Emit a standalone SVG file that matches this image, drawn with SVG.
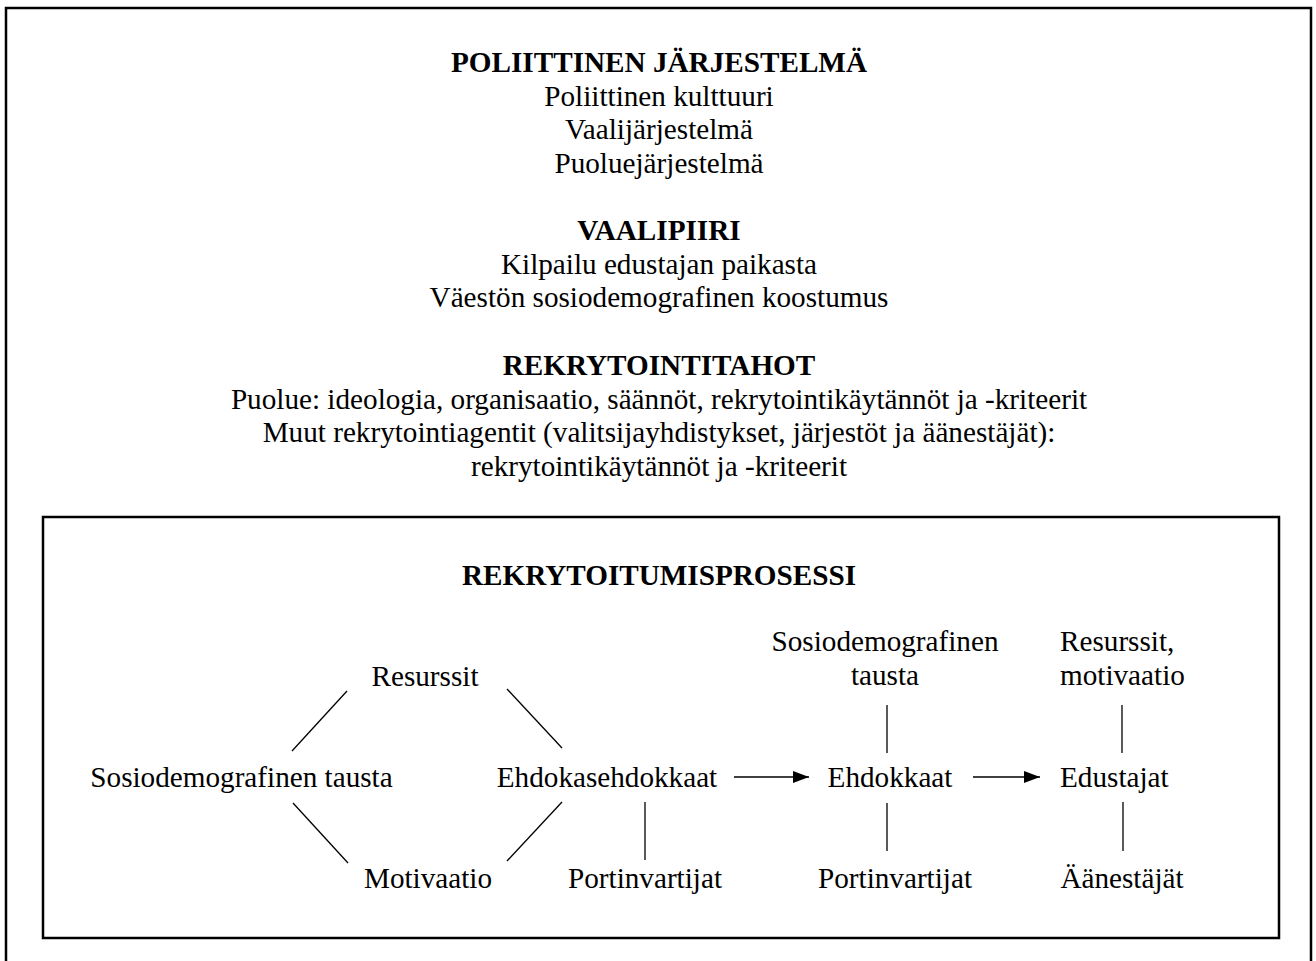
<svg xmlns="http://www.w3.org/2000/svg" width="1316" height="961" viewBox="0 0 1316 961" font-family="'Liberation Serif', Tinos, 'Times New Roman', 'DejaVu Serif', serif">
<style>
text{font-family:'Liberation Serif',Tinos,'Times New Roman','DejaVu Serif',serif;font-size:29.2px;fill:#000}
.c{text-anchor:middle}
.b{font-weight:bold}
.frame{fill:none;stroke:#000;stroke-width:2.5}
.ln{stroke:#000;stroke-width:1.3;fill:none}
</style>
<defs>
<marker id="ah" markerWidth="16" markerHeight="12" refX="16" refY="6" orient="auto" markerUnits="userSpaceOnUse">
<path d="M0,0 L16,6 L0,12 Z" fill="#000"/>
</marker>
</defs>
<rect width="1316" height="961" fill="#fff"/>
<rect class="frame" x="6" y="8" width="1305" height="970"/>
<g id="context">
<text class="c b" x="659" y="72">POLIITTINEN JÄRJESTELMÄ</text>
<text class="c" x="659" y="105.5">Poliittinen kulttuuri</text>
<text class="c" x="659" y="139">Vaalijärjestelmä</text>
<text class="c" x="659" y="172.5">Puoluejärjestelmä</text>
<text class="c b" x="659" y="240">VAALIPIIRI</text>
<text class="c" x="659" y="273.5">Kilpailu edustajan paikasta</text>
<text class="c" x="659" y="307">Väestön sosiodemografinen koostumus</text>
<text class="c b" x="659" y="375">REKRYTOINTITAHOT</text>
<text class="c" x="659" y="408.5">Puolue: ideologia, organisaatio, säännöt, rekrytointikäytännöt ja -kriteerit</text>
<text class="c" x="659" y="442">Muut rekrytointiagentit (valitsijayhdistykset, järjestöt ja äänestäjät):</text>
<text class="c" x="659" y="475.5">rekrytointikäytännöt ja -kriteerit</text>
</g>
<g id="process">
<rect class="frame" x="43" y="517" width="1236" height="421"/>
<text class="c b" x="659" y="585">REKRYTOITUMISPROSESSI</text>
</g>
<g id="n-resurssit"><text class="c" x="425" y="686">Resurssit</text></g>
<g id="n-sosio1"><text class="c" x="241.5" y="787">Sosiodemografinen tausta</text></g>
<g id="n-motivaatio"><text class="c" x="428" y="888">Motivaatio</text></g>
<g id="n-ehdokasehdokkaat"><text class="c" x="607" y="787">Ehdokasehdokkaat</text></g>
<g id="n-portin1"><text class="c" x="645" y="888">Portinvartijat</text></g>
<g id="n-sosio2"><text class="c" x="885" y="651">Sosiodemografinen</text><text class="c" x="885" y="685">tausta</text></g>
<g id="n-ehdokkaat"><text class="c" x="890" y="787">Ehdokkaat</text></g>
<g id="n-portin2"><text class="c" x="895" y="888">Portinvartijat</text></g>
<g id="n-resmot"><text x="1060" y="651">Resurssit,</text><text x="1060" y="685">motivaatio</text></g>
<g id="n-edustajat"><text x="1060" y="787">Edustajat</text></g>
<g id="n-aanestajat"><text class="c" x="1122" y="888">Äänestäjät</text></g>
<g id="connectors">
<line class="ln" x1="347" y1="691" x2="292" y2="751"/>
<line class="ln" x1="507" y1="689" x2="562" y2="748"/>
<line class="ln" x1="293" y1="803" x2="348" y2="863"/>
<line class="ln" x1="562" y1="802" x2="507" y2="861"/>
<line class="ln" x1="645" y1="802" x2="645" y2="860"/>
<line class="ln" x1="887" y1="705" x2="887" y2="753"/>
<line class="ln" x1="887" y1="803" x2="887" y2="851"/>
<line class="ln" x1="1122" y1="705" x2="1122" y2="753"/>
<line class="ln" x1="1123" y1="802" x2="1123" y2="851"/>
<line class="ln" x1="734" y1="777" x2="809" y2="777" marker-end="url(#ah)"/>
<line class="ln" x1="973" y1="777" x2="1040" y2="777" marker-end="url(#ah)"/>
</g>
</svg>
